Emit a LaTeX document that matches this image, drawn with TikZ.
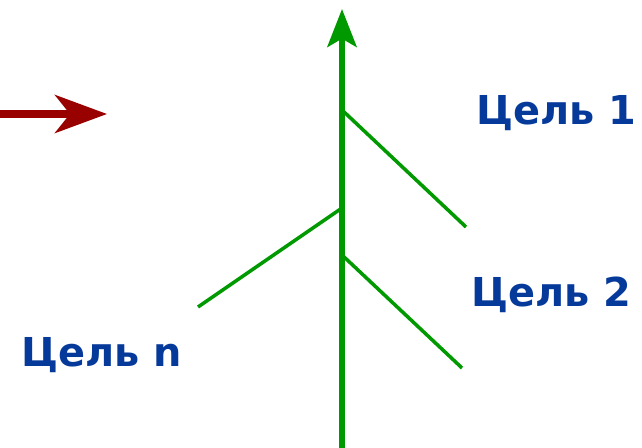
\documentclass[tikz,border=0pt]{standalone}
\usepackage{fontspec}
\setmainfont{DejaVu Sans}
\usepackage{tikz}
\usetikzlibrary{arrows.meta,calc}
\usetikzlibrary{positioning}
\definecolor{treegreen}{HTML}{009900}
\definecolor{goalblue}{HTML}{063A9A}
\definecolor{darkred}{HTML}{990000}
\tikzset{
  goal/.style={text=goalblue,font=\fontsize{34}{37}\selectfont\bfseries,inner sep=0pt},
  branch/.style={treegreen,line width=3pt,line cap=butt},
}

\begin{document}
\begin{tikzpicture}[x=0.03cm,y=-0.03cm,>=Stealth,line join=round]
\useasboundingbox (0,0) rectangle (642,448);
% trunk
\coordinate (root) at (342,448);
\coordinate (top) at (342,9);
\draw[treegreen,line width=4.5pt,-{Stealth[length=1.14cm,width=0.88cm,inset=0.25cm]}] (root) -- (top);
% branches
\coordinate (b1) at (342,110); \coordinate (e1) at (466,227);
\coordinate (b2) at (342,208); \coordinate (e2) at (198,307);
\coordinate (b3) at (342,255); \coordinate (e3) at (462,368);
\draw[branch] (b1) -- (e1);
\draw[branch] (b2) -- (e2);
\draw[branch] (b3) -- (e3);
% direction arrow
\coordinate (in) at (0,114);
\coordinate (tip) at (107,114);
\draw[darkred,line width=6pt,-{Stealth[length=1.56cm,width=1.14cm,inset=0.45cm]}] (in) -- (tip);
% goals
\node[goal] (goal1) at (556,113) {Цель 1};
\node[goal] (goal2) at (551,295) {Цель 2};
\node[goal] (goaln) at (102,355) {Цель n};
\end{tikzpicture}
\end{document}
